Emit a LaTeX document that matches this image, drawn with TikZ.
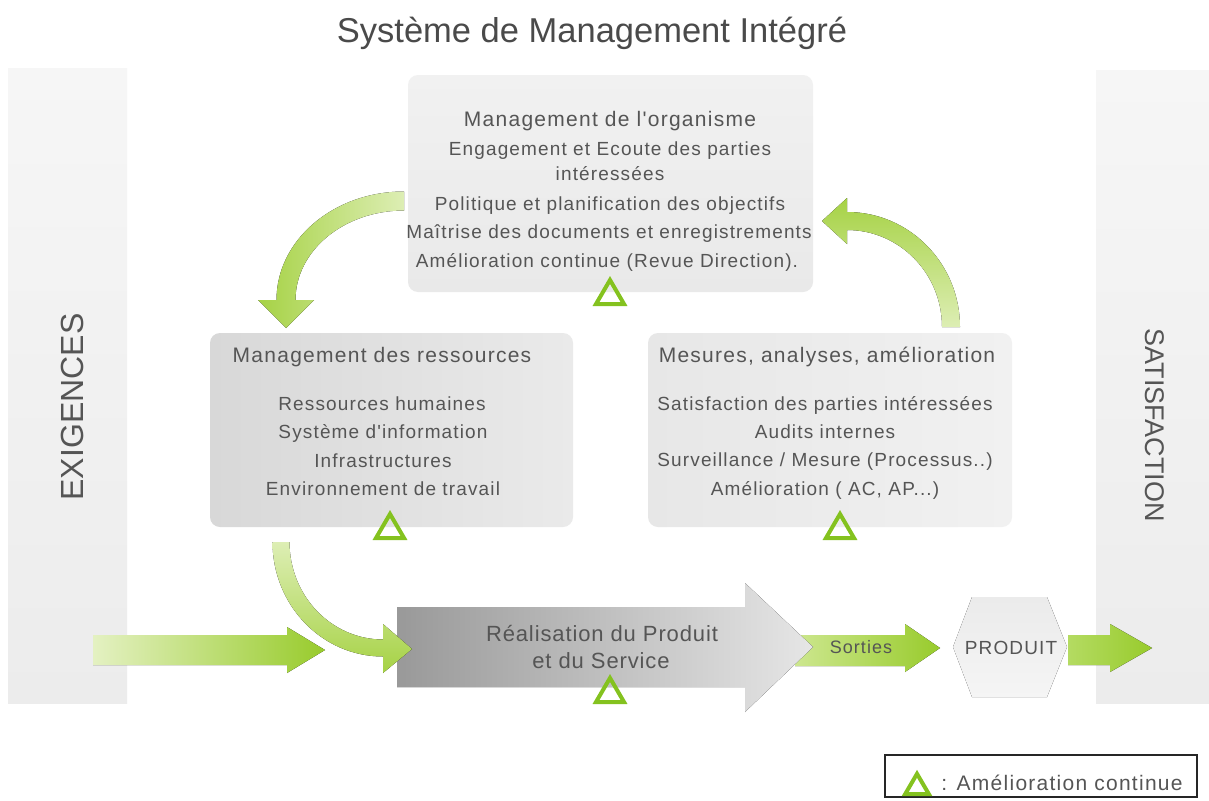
\documentclass[tikz,border=0pt]{standalone}
\usepackage{fontspec}
\setmainfont{Liberation Sans}
\newfontfamily\lsfont[LetterSpace=6]{Liberation Sans}
\newfontfamily\lsfontb[LetterSpace=4]{Liberation Sans}
\definecolor{txt}{HTML}{555555}
\definecolor{ttl}{HTML}{4A4A4A}
\definecolor{gdark}{HTML}{98CB2C}
\definecolor{gcurve}{HTML}{A6D245}
\definecolor{gmid}{HTML}{B4DB62}
\definecolor{glight}{HTML}{DDEEB4}
\definecolor{gpale}{HTML}{E4F1C2}
\definecolor{gsort}{HTML}{CDE78F}
\definecolor{trig}{HTML}{84C21F}
\definecolor{barT}{HTML}{F6F6F6}
\definecolor{barB}{HTML}{ECECEC}
\definecolor{orgT}{HTML}{F1F1F1}
\definecolor{orgB}{HTML}{E9E9E9}
\definecolor{resL}{HTML}{D8D8D8}
\definecolor{resR}{HTML}{EAEAEA}
\definecolor{mesL}{HTML}{E7E7E7}
\definecolor{mesR}{HTML}{F1F1F1}
\definecolor{bigL}{HTML}{999999}
\definecolor{bigR}{HTML}{E6E6E6}
\definecolor{hexT}{HTML}{EBEBEB}
\definecolor{hexB}{HTML}{F5F5F5}
\begin{document}
\begin{tikzpicture}[x=1pt,y=-1pt,
  bodytxt/.style={text=txt, inner sep=0pt, font=\lsfont\fontsize{19}{22}\selectfont, text height=14pt, text depth=4pt},
  headtxt/.style={text=txt, inner sep=0pt, font=\lsfont\fontsize{21}{24}\selectfont, text height=15pt, text depth=5pt},
  bigtxt/.style={text=txt, inner sep=0pt, font=\lsfontb\fontsize{22}{25}\selectfont, text height=16pt, text depth=5pt},
  sidetxt/.style={text=txt, inner sep=0pt},
  panel/.style={rounded corners=10pt, inner sep=0pt},
  amel/.pic={\draw[trig, line width=4pt, line join=miter] (-14,12) -- (0,-12) -- (14,12) -- cycle;}
]
\useasboundingbox (0,0) rectangle (1209,800);
\fill[white] (0,0) rectangle (1209,800);

% side bars
\fill[top color=barT, bottom color=barB] (8,68) rectangle (127,703);
\fill[top color=barT, bottom color=barB] (1096,70) rectangle (1209,703);
\node[sidetxt, rotate=90, font=\fontsize{32}{34}\selectfont] (exig) at (72,407) {EXIGENCES};
\node[sidetxt, rotate=-90, font=\fontsize{27}{30}\selectfont] (satis) at (1155,425) {SATISFACTION};

% title
\node[text=ttl, inner sep=0pt, anchor=base, font=\fontsize{34.5}{38}\selectfont] (title) at (592,43) {Système de Management Intégré};

% curved arrow top-left (org -> ressources)
\fill[left color=gcurve, right color=glight]
  (404,191.5) arc[start angle=270, end angle=180, x radius=127.5, y radius=108.5]
  -- (258,300) -- (286,328) -- (314,300)
  -- (295.5,300) arc[start angle=180, end angle=270, x radius=108.5, y radius=89.5] -- cycle;

% curved arrow top-right (mesures -> org)
\fill[top color=gcurve, bottom color=glight]
  (960,327) arc[start angle=0, end angle=-90, x radius=113, y radius=115]
  -- (847,198) -- (822,221) -- (847,244)
  -- (847,230) arc[start angle=-90, end angle=0, x radius=95, y radius=97] -- cycle;

% boxes
\node[panel, top color=orgT, bottom color=orgB, minimum width=405pt, minimum height=217pt] (org) at (610.5,183.5) {};
\node[panel, left color=resL, right color=resR, minimum width=363pt, minimum height=194pt] (res) at (391.5,430) {};
\node[panel, left color=mesL, right color=mesR, minimum width=364pt, minimum height=194pt] (mes) at (830,430) {};

% top box text
\node[headtxt] (orgh) at (610,121) {Management de l'organisme};
\node[bodytxt] (org1) at (610,150) {Engagement et Ecoute des parties};
\node[bodytxt] (org2) at (610,175) {intéressées};
\node[bodytxt] (org3) at (610,205) {Politique et planification des objectifs};
\node[bodytxt] (org4) at (609,233) {Maîtrise des documents et enregistrements};
\node[bodytxt] (org5) at (607,262) {Amélioration continue (Revue Direction).};

% left box text
\node[headtxt] (resh) at (382,357) {Management des ressources};
\node[bodytxt] (res1) at (382,405) {Ressources humaines};
\node[bodytxt] (res2) at (383,433) {Système d'information};
\node[bodytxt] (res3) at (383,462) {Infrastructures};
\node[bodytxt] (res4) at (383,490) {Environnement de travail};

% right box text
\node[headtxt] (mesh) at (827,357) {Mesures, analyses, amélioration};
\node[bodytxt] (mes1) at (825,405) {Satisfaction des parties intéressées};
\node[bodytxt] (mes2) at (825,433) {Audits internes};
\node[bodytxt] (mes3) at (825,461) {Surveillance / Mesure (Processus..)};
\node[bodytxt] (mes4) at (825,490) {Amélioration ( AC, AP...)};

% improvement triangles
\pic at (610,292) {amel};
\pic at (390,526) {amel};
\pic at (840,526) {amel};

% sorties arrow
\fill[left color=gsort, right color=gdark]
  (795,635) -- (905,635) -- (905,624) -- (940,648) -- (905,672) -- (905,666) -- (795,666) -- cycle;
\node[text=txt, inner sep=0pt, font=\lsfont\fontsize{18}{20}\selectfont] (sort) at (861,647) {Sorties};

% big realisation arrow
\fill[left color=bigL, right color=bigR]
  (397,607) -- (745,607) -- (745,583) -- (813,647) -- (745,712) -- (745,687) -- (397,687) -- cycle;
\node[bigtxt] (real1) at (602,636) {Réalisation du Produit};
\node[bigtxt] (real2) at (601,663) {et du Service};
\pic at (610,690) {amel};

% input arrow
\fill[left color=gpale, right color=gdark]
  (93,635) -- (287,635) -- (287,627) -- (325,650) -- (287,673) -- (287,665) -- (93,665) -- cycle;

% curved arrow bottom-left (ressources -> realisation)
\fill[top color=glight, bottom color=gcurve]
  (272.5,542) arc[start angle=180, end angle=90, x radius=110.5, y radius=114.5]
  -- (383,673) -- (412,649) -- (383,624)
  -- (383,639.5) arc[start angle=90, end angle=180, x radius=93.5, y radius=97.5] -- cycle;

% produit hexagon
\fill[top color=hexT, bottom color=hexB]
  (953,647) -- (972,597) -- (1047,597) -- (1067,647) -- (1047,697) -- (972,697) -- cycle;
\node[text=txt, inner sep=0pt, font=\lsfont\fontsize{19}{22}\selectfont] (prod) at (1011,648) {PRODUIT};

% output arrow
\fill[left color=gmid, right color=gdark]
  (1068,635) -- (1110,635) -- (1110,624) -- (1152,648) -- (1110,672) -- (1110,665) -- (1068,665) -- cycle;

% legend
\draw[line width=1.5pt, draw=black!85] (885,755) rectangle (1197,797);
\pic[scale=0.85] at (917,784) {amel};
\node[text=txt, inner sep=0pt, font=\lsfont\fontsize{21}{24}\selectfont] (leg) at (1062,783) {: Amélioration continue};
\end{tikzpicture}
\end{document}
